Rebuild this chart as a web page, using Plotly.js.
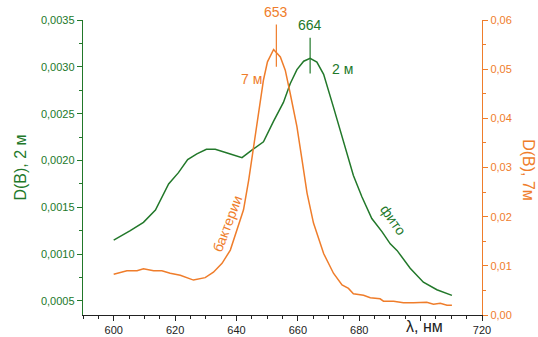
<!DOCTYPE html>
<html>
<head>
<meta charset="utf-8">
<script src="https://cdn.plot.ly/plotly-3.0.1.min.js"></script>
<style>html,body{margin:0;padding:0;background:#fff}#chart{width:538px;height:337px}</style>
</head>
<body>
<div id="chart"></div>
<script>
// Phytoplankton (2 m), left axis
const phytoNm = [600, 605.4, 609.7, 613.6, 617.9, 621.1, 624.1, 627.1, 630.2, 633.1, 638, 641.8, 645, 648.8, 652.1, 655.3, 657.5, 659.7, 661.9, 664, 666.2, 668.4, 671.6, 674.9, 678.1, 680.9, 684.1, 687.4, 690.1, 692.3, 696.6, 700.9, 705.3, 710.2];
const phytoD  = [0.00115, 0.00125, 0.00134, 0.00147, 0.00175, 0.00187, 0.00201, 0.00207, 0.00212, 0.00212, 0.00207, 0.00203, 0.00211, 0.0022, 0.00242, 0.00262, 0.00282, 0.00297, 0.00306, 0.00309, 0.00305, 0.00292, 0.00257, 0.00221, 0.00184, 0.00161, 0.00138, 0.00124, 0.00111, 0.00104, 0.00085, 0.0007, 0.00062, 0.00056];

// Bacteria (7 m), right axis
const bactNm = [600, 604.3, 607.6, 609.7, 613, 615.7, 618.4, 621.7, 626, 629.8, 632.5, 635.3, 638, 640.2, 642.3, 644, 645.6, 647.2, 648.8, 650.1, 652.1, 654.3, 655.9, 657.5, 659.7, 661.5, 663, 665.1, 668.4, 671.6, 674.4, 676.5, 678.1, 681.4, 683.6, 686.8, 687.9, 691.2, 694.4, 697.7, 702, 704.2, 706.4, 708.6, 710.2];
const bactD  = [0.0083, 0.009, 0.009, 0.0094, 0.009, 0.009, 0.0085, 0.0081, 0.0071, 0.0076, 0.0087, 0.0105, 0.0132, 0.0173, 0.0214, 0.0275, 0.0342, 0.041, 0.0478, 0.0515, 0.054, 0.0525, 0.0498, 0.0451, 0.0383, 0.031, 0.0248, 0.0187, 0.0125, 0.0085, 0.0061, 0.0054, 0.0043, 0.004, 0.0035, 0.0033, 0.0028, 0.0028, 0.0025, 0.0025, 0.0026, 0.0022, 0.0024, 0.002, 0.002];

// X tick labels (700 is replaced by the axis label in the original)
const xTickVals = [600, 620, 640, 660, 680, 700, 720];
const xTickText = ['600', '620', '640', '660', '680', '', '720'];

const peakLabels = [{nm: 653, text: '653', series: 'bact'}, {nm: 664, text: '664', series: 'phyto'}];

const GREEN = '#22782a';
const ORANGE = '#ef7d2b';
const FONT = 'Arial, "Liberation Sans", sans-serif';

const traces = [
  {x: phytoNm, y: phytoD, type: 'scatter', mode: 'lines', line: {color: GREEN, width: 1.5}, yaxis: 'y', hoverinfo: 'none'},
  {x: bactNm, y: bactD, type: 'scatter', mode: 'lines', line: {color: ORANGE, width: 1.5}, yaxis: 'y2', hoverinfo: 'none'}
];

const layout = {
  width: 538, height: 337,
  margin: {l: 83, r: 56, t: 20, b: 22},
  paper_bgcolor: '#fff', plot_bgcolor: '#fff',
  showlegend: false,
  separators: ', ',
  font: {family: FONT, size: 11, color: '#222'},
  xaxis: {
    range: [590, 720], tickmode: 'array', tickvals: xTickVals, ticktext: xTickText,
    ticks: 'outside', ticklen: 5, tickcolor: '#222',
    showline: true, linecolor: '#222', linewidth: 1, showgrid: false, zeroline: false,
    tickfont: {size: 11, color: '#222'},
    minor: {tick0: 590, dtick: 5, ticks: 'outside', ticklen: 3, tickcolor: '#222', showgrid: false}
  },
  yaxis: {
    range: [0.00035, 0.0035], tick0: 0, dtick: 0.0005, tickformat: '.4f', ticks: 'outside', ticklen: 5,
    tickcolor: GREEN, showline: true, linecolor: GREEN, linewidth: 1.2, showgrid: false, zeroline: false,
    tickfont: {size: 11, color: GREEN},
    minor: {dtick: 0.00025, ticks: 'outside', ticklen: 3, tickcolor: GREEN, showgrid: false},
    title: {text: 'D(B), 2 м', font: {size: 16, color: GREEN}, standoff: 10}
  },
  yaxis2: {
    overlaying: 'y', side: 'right', anchor: 'x',
    range: [0, 0.06], tick0: 0, dtick: 0.01, tickformat: '.2f', ticks: 'outside', ticklen: 5,
    tickcolor: ORANGE, showline: true, linecolor: ORANGE, linewidth: 1.2, showgrid: false, zeroline: false,
    tickfont: {size: 11, color: ORANGE},
    minor: {dtick: 0.005, ticks: 'outside', ticklen: 3, tickcolor: ORANGE, showgrid: false}
  },
  shapes: [],
  annotations: [
    {xref: 'x', yref: 'y2', x: 653, y: 0.0595, text: '653', showarrow: false, yanchor: 'bottom', font: {size: 14, color: ORANGE}},
    {xref: 'x', yref: 'y', x: 664, y: 0.00334, text: '664', showarrow: false, yanchor: 'bottom', font: {size: 14, color: GREEN}},
    {xref: 'x', yref: 'y2', x: 645, y: 0.0479, text: '7 м', showarrow: false, font: {size: 14, color: ORANGE}},
    {xref: 'x', yref: 'y', x: 674.5, y: 0.00298, text: '2 м', showarrow: false, font: {size: 14, color: GREEN}},
    {xref: 'x', yref: 'y2', x: 637, y: 0.0185, text: 'бактерии', textangle: -69, showarrow: false, font: {size: 14, color: ORANGE}},
    {xref: 'x', yref: 'y', x: 691, y: 0.00136, text: 'фито', textangle: 55, showarrow: false, font: {size: 14, color: GREEN}},
    {xref: 'paper', yref: 'paper', x: 0.855, y: -0.0746, text: 'λ, нм', showarrow: false, xanchor: 'center', yanchor: 'bottom', font: {size: 16, color: '#222'}},
    {xref: 'paper', yref: 'paper', x: 1.116, y: 0.49, text: 'D(B), 7м', textangle: 90, showarrow: false, xanchor: 'center', yanchor: 'middle', font: {size: 16, color: ORANGE}}
  ]
};

// Peak marker lines
peakLabels.forEach(p => {
  if (p.series === 'bact') {
    layout.shapes.push({type: 'line', xref: 'x', yref: 'y2', x0: p.nm, x1: p.nm, y0: 0.0505, y1: 0.0591, line: {color: ORANGE, width: 1.2}});
  } else {
    layout.shapes.push({type: 'line', xref: 'x', yref: 'y', x0: p.nm, x1: p.nm, y0: 0.00293, y1: 0.00331, line: {color: GREEN, width: 1.2}});
  }
});

Plotly.newPlot('chart', traces, layout, {displayModeBar: false, staticPlot: true});
</script>
</body>
</html>
